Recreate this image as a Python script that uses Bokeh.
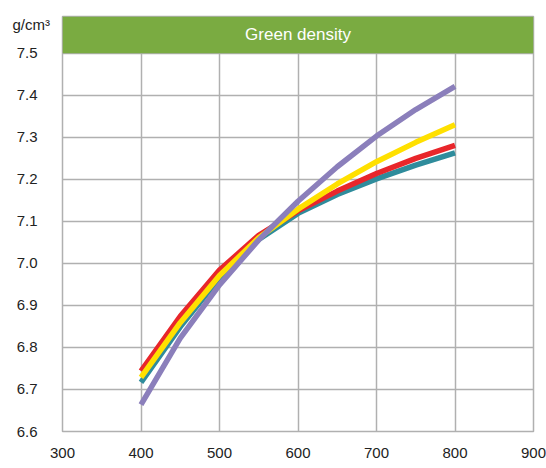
from bokeh.plotting import figure
from bokeh.models import FixedTicker, Range1d, CustomJSTickFormatter, Title
from bokeh.embed import file_html
from bokeh.resources import INLINE

FONT = "Liberation Sans"

temps = [400, 450, 500, 550, 600, 650, 700, 750, 800]
teal = [6.717, 6.849, 6.965, 7.057, 7.119, 7.164, 7.201, 7.234, 7.263]
red = [6.744, 6.874, 6.984, 7.067, 7.125, 7.172, 7.214, 7.250, 7.281]
yellow = [6.729, 6.859, 6.971, 7.061, 7.129, 7.189, 7.242, 7.288, 7.330]
purple = [6.664, 6.822, 6.949, 7.056, 7.148, 7.230, 7.303, 7.366, 7.421]

x_ticks = [300, 400, 500, 600, 700, 800, 900]
y_ticks = [6.6, 6.7, 6.8, 6.9, 7.0, 7.1, 7.2, 7.3, 7.4, 7.5]
x_min, x_max = 300, 900
y_min, y_top, y_bar_top = 6.6, 7.5, 7.5875
title_text = "Green density"
unit_text = "g/cm³"

p = figure(width=546, height=460, output_backend="svg", toolbar_location=None,
           x_range=Range1d(x_min, x_max), y_range=Range1d(y_min, y_bar_top),
           min_border_left=62, min_border_right=13, min_border_top=16, min_border_bottom=27)

p.outline_line_color = "#b0b0b0"
p.outline_line_width = 1.5

for g in (p.xgrid, p.ygrid):
    g.grid_line_color = "#b0b0b0"
    g.grid_line_width = 1.5
p.xgrid.ticker = FixedTicker(ticks=x_ticks)
p.ygrid.ticker = FixedTicker(ticks=y_ticks)

for ax in (p.xaxis, p.yaxis):
    ax.axis_line_color = None
    ax.major_tick_line_color = None
    ax.minor_tick_line_color = None
    ax.major_label_text_font = FONT
    ax.major_label_text_font_size = "15px"
    ax.major_label_text_color = "#222222"
p.xaxis.ticker = FixedTicker(ticks=x_ticks)
p.yaxis.ticker = FixedTicker(ticks=y_ticks)
p.xaxis.major_label_standoff = 10
p.yaxis.major_label_standoff = 19
p.yaxis.formatter = CustomJSTickFormatter(code="return tick.toFixed(1);")

# green title bar
p.quad(left=[x_min], right=[x_max], bottom=[y_top], top=[y_bar_top],
       fill_color="#7aab41", line_color=None)
p.text(x=[(x_min + x_max) / 2], y=[(y_top + y_bar_top) / 2], text=[title_text],
       text_align="center", text_baseline="middle", text_color="white",
       text_font_size="17px", text_font={"value": FONT})

series = [(teal, "#2f8c9c"), (red, "#e8262b"), (yellow, "#ffe000"), (purple, "#8b7fbb")]
for ys, c in series:
    p.line(temps, ys, line_color=c, line_width=5.5)

# unit label, to the left of the title bar
p.add_layout(Title(text=unit_text, align="left", offset=-50, standoff=-32,
                   text_font=FONT, text_font_size="15px", text_font_style="normal",
                   text_color="#222222"), "above")

open("out.html", "w").write(file_html(p, INLINE))
